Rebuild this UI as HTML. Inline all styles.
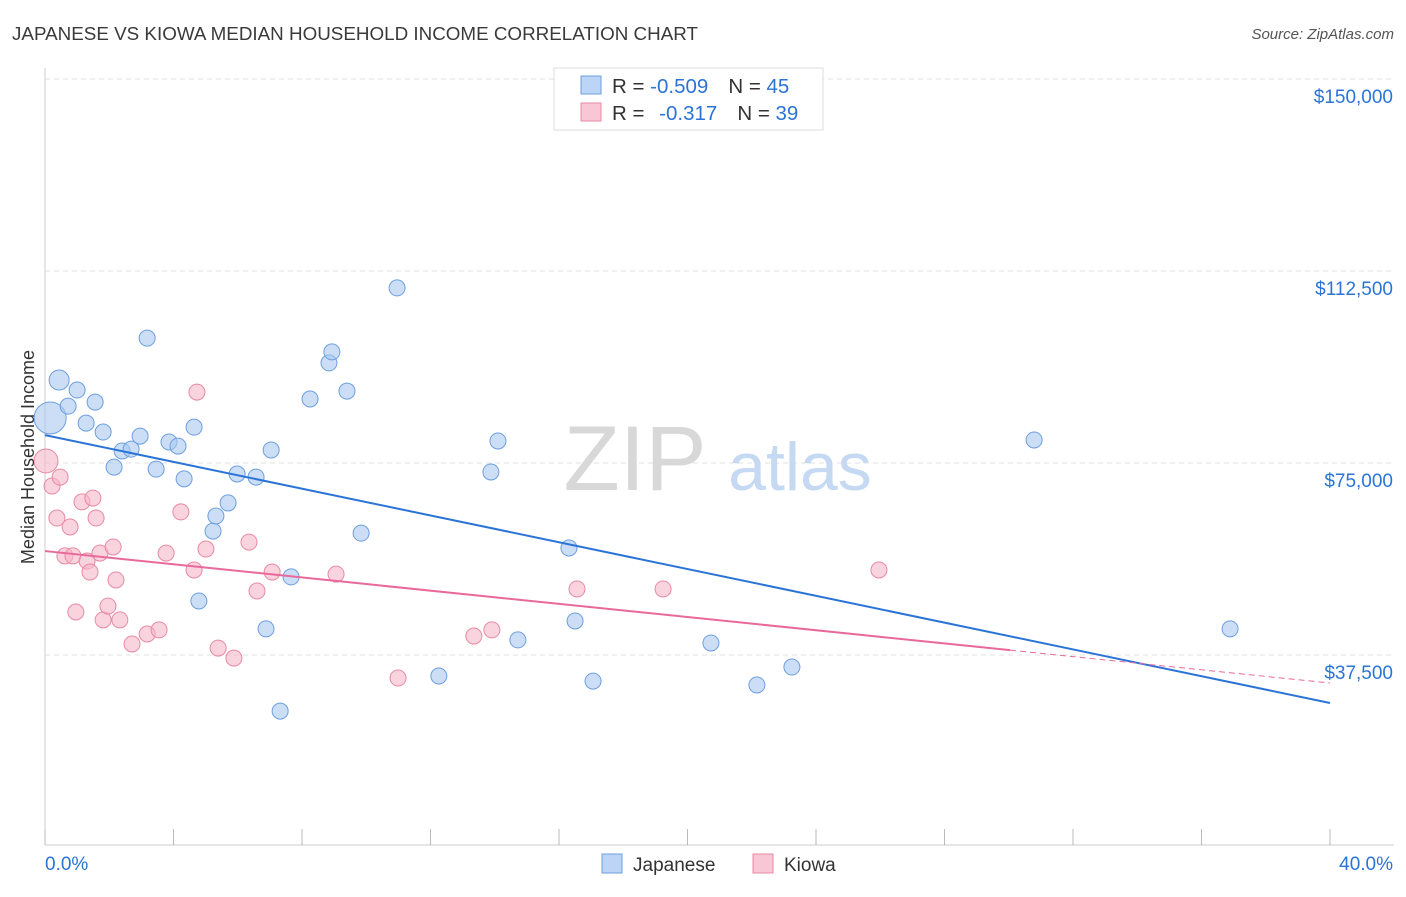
<!DOCTYPE html>
<html><head><meta charset="utf-8">
<style>
body{margin:0;background:#fff;font-family:"Liberation Sans",sans-serif;}
svg text{font-family:"Liberation Sans",sans-serif;}
</style></head>
<body>
<svg width="1406" height="892" viewBox="0 0 1406 892">
<text x="12" y="40" font-size="18" fill="#3a3a3a" textLength="686" lengthAdjust="spacingAndGlyphs">JAPANESE VS KIOWA MEDIAN HOUSEHOLD INCOME CORRELATION CHART</text>
<text x="1394" y="39" font-size="15" fill="#555" font-style="italic" text-anchor="end">Source: ZipAtlas.com</text>
<g id="grid"></g>
<g id="watermark">
<text x="635" y="490" font-size="92" fill="#d8d8d8" font-family="Liberation Serif" text-anchor="middle">ZIP</text>
<text x="800" y="490" font-size="68" fill="#c5d9f2" text-anchor="middle">atlas</text>
</g>
<g id="axes"></g>
<g id="pts"></g>
<g id="trends"></g>
<text x="28" y="457" font-size="18" fill="#333" transform="rotate(-90 28 457)" text-anchor="middle" dy="6">Median Household Income</text>
<g>
<rect x="554" y="68" width="269" height="62" fill="#fff" stroke="#ddd"/>
<rect x="581" y="76" width="20" height="18" fill="#bcd4f5" stroke="#6d9fe0"/>
<rect x="581" y="103" width="20" height="18" fill="#f8c6d5" stroke="#e88aa5"/>
<text x="612" y="93" font-size="20.5" fill="#333">R = <tspan fill="#2b74d6">-0.509</tspan><tspan dx="20">N = </tspan><tspan fill="#2b74d6">45</tspan></text>
<text x="612" y="120" font-size="20.5" fill="#333">R = <tspan fill="#2b74d6" dx="9">-0.317</tspan><tspan dx="20">N = </tspan><tspan fill="#2b74d6">39</tspan></text>
</g>
<g>
<rect x="602" y="854" width="20" height="19" fill="#bcd4f5" stroke="#6d9fe0"/>
<text x="633" y="871" font-size="19" fill="#333">Japanese</text>
<rect x="753" y="854" width="20" height="19" fill="#f8c6d5" stroke="#e88aa5"/>
<text x="784" y="871" font-size="19" fill="#333">Kiowa</text>
</g>
</svg>
<script>
const yTicks=[37500,75000,112500,150000];
const yTickLabels=["$37,500","$75,000","$112,500","$150,000"];
const xTickLabels=["0.0%","40.0%"];
const japX=[0.16,0.44,0.72,1.00,1.28,1.56,1.81,2.15,2.40,2.68,2.96,3.18,3.46,3.86,4.14,4.33,4.64,4.79,5.23,5.32,5.70,5.98,6.57,6.88,7.04,7.32,7.66,8.25,8.84,8.93,9.40,9.84,10.96,12.26,13.88,14.10,14.72,16.31,16.50,17.06,20.73,22.16,23.25,30.79,36.89];
const japY=[83800,91200,86100,89250,82800,86900,81050,74200,77350,77700,80250,99400,73800,79100,78300,71900,82000,48050,61700,64650,67200,72850,72250,42600,77550,26550,52750,87500,94550,96700,89050,61300,109200,33400,73250,79300,40450,58400,44150,32400,39850,31650,35150,79500,42600];
const kioX=[0.03,0.22,0.37,0.47,0.62,0.78,0.87,0.96,1.15,1.31,1.40,1.49,1.59,1.71,1.81,1.96,2.12,2.21,2.33,2.71,3.18,3.55,3.77,4.23,4.64,4.73,5.01,5.39,5.88,6.35,6.60,7.07,9.06,10.99,13.35,13.91,16.56,19.24,25.96];
const kioY=[75400,70500,64250,72250,56850,62500,56850,45900,67400,55850,53700,68150,64250,57400,44350,47050,58600,52150,44350,39650,41600,42400,57400,65450,54100,88850,58200,38850,36900,59550,50000,53700,53300,33000,41200,42400,50400,50400,54100];
const japTrend=[80450,28125];
const kioTrend=[57800,32030];
const kioSolidEnd=30.04;

const X=v=>45+v/40*1285;
const Y=v=>847-v/37500*192;
const NS="http://www.w3.org/2000/svg";
function mk(t,a,p){const e=document.createElementNS(NS,t);for(const k in a)e.setAttribute(k,a[k]);p.appendChild(e);return e;}
const grid=document.getElementById('grid'),axes=document.getElementById('axes');
yTicks.forEach((v,i)=>{
  const l=mk('line',{x1:45,x2:1394,y1:Y(v),y2:Y(v),stroke:'#e2e2e2','stroke-dasharray':'5,4'},grid);
  
  
  const t=mk('text',{x:1393,y:Y(v)+24,'font-size':19,fill:'#2b74d6','text-anchor':'end'},axes);
  t.textContent=yTickLabels[i];
  
  
});
mk('line',{x1:45,x2:45,y1:68,y2:845,stroke:'#ccc'},axes);
mk('line',{x1:45,x2:1394,y1:845,y2:845,stroke:'#ccc'},axes);
for(let i=0;i<=10;i++){const tk=mk('line',{x1:X(i*4),x2:X(i*4),y1:829,y2:845,stroke:'#bbb'},axes);
  
  }
const xl0=mk('text',{x:45,y:870,'font-size':19,fill:'#2b74d6'},axes);xl0.textContent=xTickLabels[0];


const xl1=mk('text',{x:1393,y:870,'font-size':19,fill:'#2b74d6','text-anchor':'end'},axes);xl1.textContent=xTickLabels[1];


const pts=document.getElementById('pts');
kioX.forEach((x,i)=>{const c=mk('circle',{cx:X(x),cy:Y(kioY[i]),r:i==0?12:8,fill:'#f5b6c8','fill-opacity':0.6,stroke:'#e88aa5','stroke-width':1},pts);
  
  });
japX.forEach((x,i)=>{const c=mk('circle',{cx:X(x),cy:Y(japY[i]),r:i==0?16:(i==1?10:8),fill:'#a9c8f0','fill-opacity':0.6,stroke:'#6d9fe0','stroke-width':1},pts);
  
  });
const tr=document.getElementById('trends');
const jl=mk('line',{x1:X(0),y1:Y(japTrend[0]),x2:X(40),y2:Y(japTrend[1]),stroke:'#2b74d6','stroke-width':2},tr);


const ky=x=>kioTrend[0]+(kioTrend[1]-kioTrend[0])*x/40;
const kl=mk('line',{x1:X(0),y1:Y(kioTrend[0]),x2:X(kioSolidEnd),y2:Y(ky(kioSolidEnd)),stroke:'#e8699a','stroke-width':2},tr);


const kd=mk('line',{x1:X(kioSolidEnd),y1:Y(ky(kioSolidEnd)),x2:X(40),y2:Y(kioTrend[1]),stroke:'#e8699a','stroke-width':1,'stroke-dasharray':'6,4'},tr);


</script>
</body></html>
